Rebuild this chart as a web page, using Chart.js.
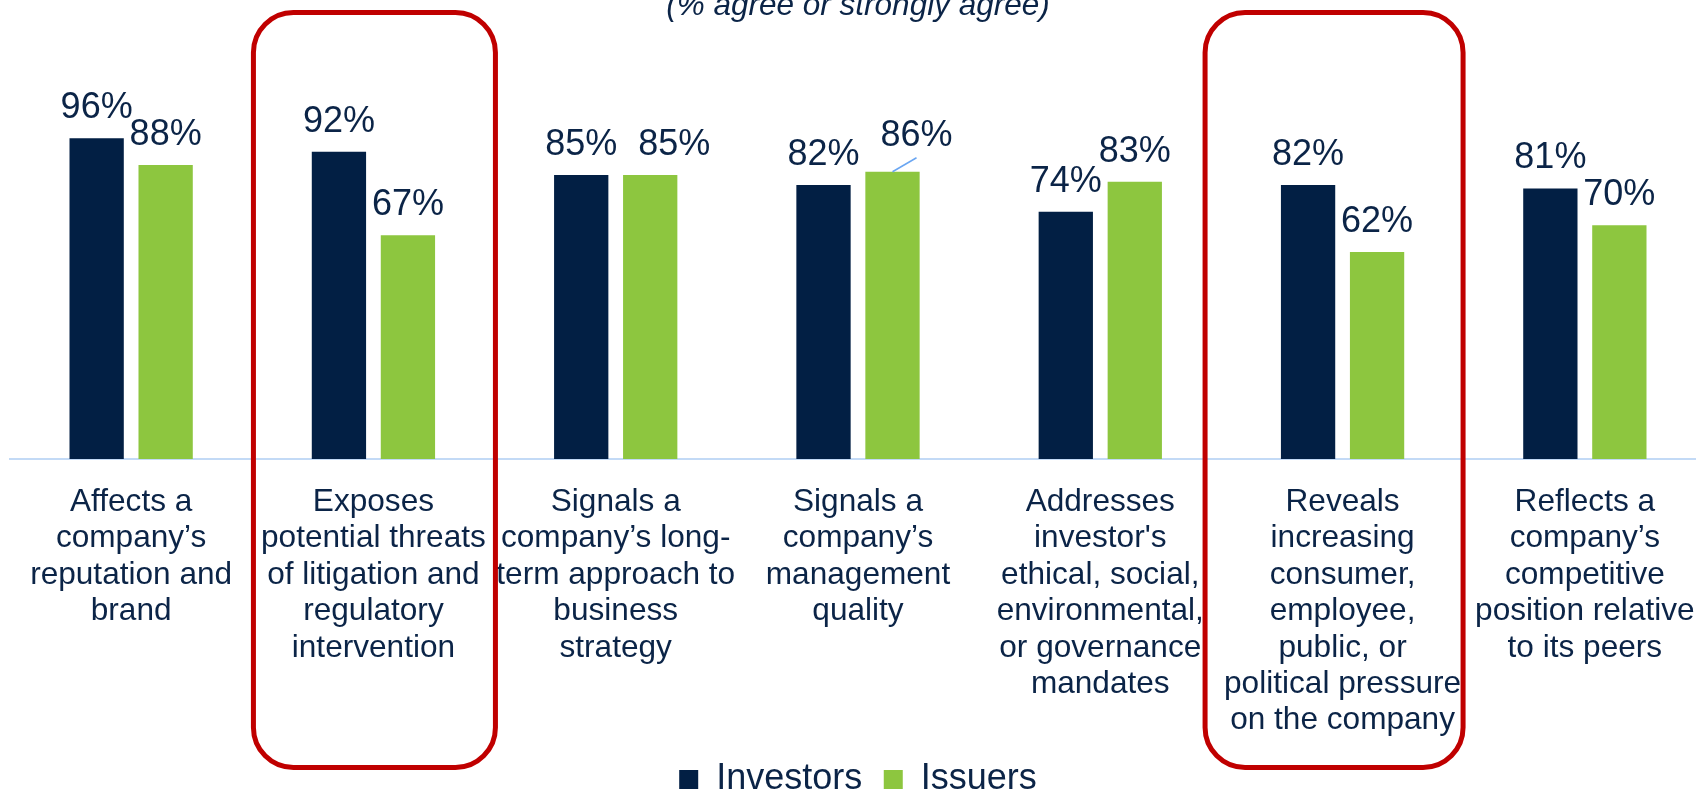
<!DOCTYPE html>
<html>
<head>
<meta charset="utf-8">
<script src="https://cdn.jsdelivr.net/npm/chart.js@4.4.1/dist/chart.umd.min.js"></script>
<style>
  html, body { margin: 0; padding: 0; background: #ffffff; overflow: hidden; }
  canvas { display: block; }
</style>
</head>
<body>
<!-- the plot in the slide runs about 10px past the right edge, so the canvas does too -->
<canvas id="chart" width="1706" height="793"></canvas>
<script>
// Data
const categories = [
  ['Affects a', 'company’s', 'reputation and', 'brand'],
  ['Exposes', 'potential threats', 'of litigation and', 'regulatory', 'intervention'],
  ['Signals a', 'company’s long-', 'term approach to', 'business', 'strategy'],
  ['Signals a', 'company’s', 'management', 'quality'],
  ['Addresses', "investor's", 'ethical, social,', 'environmental,', 'or governance', 'mandates'],
  ['Reveals', 'increasing', 'consumer,', 'employee,', 'public, or', 'political pressure', 'on the company'],
  ['Reflects a', 'company’s', 'competitive', 'position relative', 'to its peers']
];
const investors = [96, 92, 85, 82, 74, 82, 81];
const issuers = [88, 67, 85, 86, 83, 62, 70];
const seriesNames = ['Investors', 'Issuers'];
const subtitle = '(% agree or strongly agree)';
const highlighted = [1, 5];

// Colours
const NAVY = '#021f44';
const GREEN = '#8dc63f';
const TEXT = '#0b2447';
const RED = '#c00000';
const AXIS = '#c3daf6';
const FONT = "'Liberation Sans', Arial, sans-serif";

// Subtitle, cut off at the top edge like in the original slide
const subtitlePlugin = {
  id: 'subtitle',
  afterDraw(chart) {
    const ctx = chart.ctx;
    ctx.save();
    ctx.font = 'italic 31.5px ' + FONT;
    ctx.fillStyle = TEXT;
    ctx.textAlign = 'center';
    ctx.textBaseline = 'alphabetic';
    ctx.fillText(subtitle, 858, 15);
    ctx.restore();
  }
};

// Value labels above each bar; a few labels were moved aside in the slide
const labelNudges = [
  { dataset: 1, index: 2, dx: 24, dy: 0, leader: false },
  { dataset: 1, index: 3, dx: 24, dy: -6, leader: true }
];
const valueLabelPlugin = {
  id: 'valueLabels',
  afterDatasetsDraw(chart) {
    const ctx = chart.ctx;
    ctx.save();
    ctx.font = '36px ' + FONT;
    ctx.fillStyle = TEXT;
    ctx.textAlign = 'center';
    ctx.textBaseline = 'alphabetic';
    chart.data.datasets.forEach((ds, di) => {
      const meta = chart.getDatasetMeta(di);
      meta.data.forEach((bar, i) => {
        let x = bar.x;
        let y = bar.y - 20;
        const nudge = labelNudges.find(n => n.dataset === di && n.index === i);
        if (nudge) {
          x += nudge.dx;
          y += nudge.dy;
          if (nudge.leader) {
            ctx.save();
            ctx.strokeStyle = '#6aa6f2';
            ctx.lineWidth = 1.5;
            ctx.beginPath();
            ctx.moveTo(bar.x, bar.y);
            ctx.lineTo(x, y + 12);
            ctx.stroke();
            ctx.restore();
          }
        }
        ctx.fillText(ds.data[i] + '%', x, y);
      });
    });
    ctx.restore();
  }
};

// Red rounded boxes around the highlighted categories
const boxShape = { 1: { half: 121, dx: 1 }, 5: { half: 129, dx: -8.5 } };
const highlightPlugin = {
  id: 'highlight',
  afterDraw(chart) {
    const ctx = chart.ctx;
    const xScale = chart.scales.x;
    ctx.save();
    ctx.strokeStyle = RED;
    ctx.lineWidth = 5;
    highlighted.forEach(idx => {
      const shape = boxShape[idx];
      const cx = xScale.getPixelForValue(idx) + shape.dx;
      const top = 12.5;
      const bottom = chart.height - 25.5;
      ctx.beginPath();
      ctx.roundRect(cx - shape.half, top, shape.half * 2, bottom - top, 40);
      ctx.stroke();
    });
    ctx.restore();
  }
};

const ctx = document.getElementById('chart').getContext('2d');
new Chart(ctx, {
  type: 'bar',
  data: {
    labels: categories,
    datasets: [
      {
        label: seriesNames[0],
        data: investors,
        backgroundColor: NAVY,
        borderWidth: 0
      },
      {
        label: seriesNames[1],
        data: issuers,
        backgroundColor: GREEN,
        borderWidth: 0
      }
    ]
  },
  options: {
    responsive: false,
    animation: false,
    devicePixelRatio: 1,
    categoryPercentage: 0.5695,
    barPercentage: 0.787,
    layout: {
      padding: { top: 125, left: 10, right: 0, bottom: -14.5 }
    },
    scales: {
      x: {
        grid: { display: false, drawTicks: false },
        border: { display: true, color: AXIS, width: 2 },
        ticks: {
          color: TEXT,
          font: { family: FONT, size: 31.6, lineHeight: 1.152 },
          padding: 25,
          autoSkip: false,
          maxRotation: 0,
          minRotation: 0
        },
        // labels run past the plot edges in the slide; keep the plot full width
        afterFit(scale) {
          scale.paddingLeft = 0;
          scale.paddingRight = 0;
          scale.height = 281;
        }
      },
      y: {
        display: false,
        min: 0,
        max: 100
      }
    },
    plugins: {
      legend: {
        position: 'bottom',
        labels: {
          color: TEXT,
          font: { family: FONT, size: 36 },
          boxWidth: 19,
          boxHeight: 19,
          padding: 21.5
        }
      },
      tooltip: { enabled: false },
      title: { display: false }
    }
  },
  plugins: [subtitlePlugin, valueLabelPlugin, highlightPlugin]
});
</script>
</body>
</html>
